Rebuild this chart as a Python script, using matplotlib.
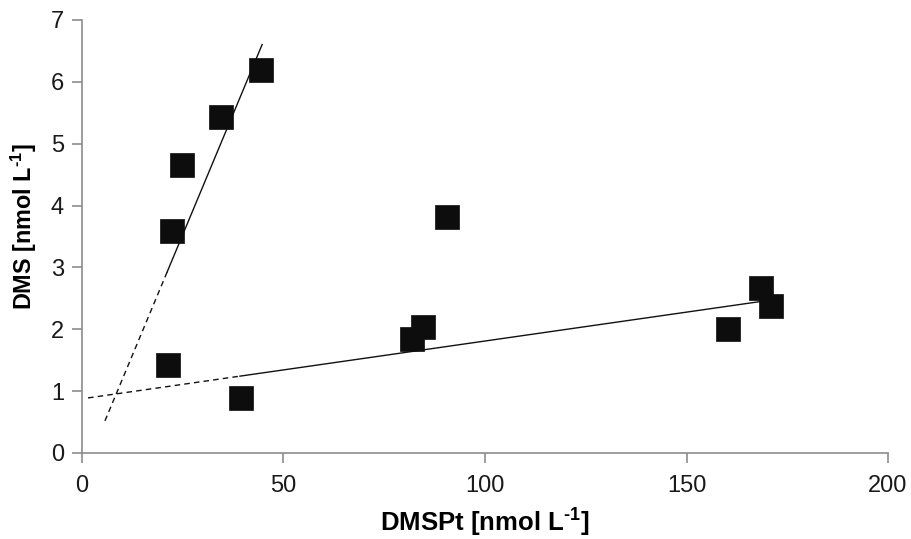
import matplotlib
matplotlib.use("Agg")
import matplotlib.pyplot as plt
import numpy as np

plt.rcParams['font.family'] = ['Liberation Sans', 'DejaVu Sans']
plt.rcParams['mathtext.fontset'] = 'custom'
plt.rcParams['mathtext.rm'] = 'Liberation Sans'
plt.rcParams['mathtext.bf'] = 'Liberation Sans:bold'

# Observations: DMSPt vs DMS
dmspt = [44.4, 34.5, 24.8, 22.3, 21.3, 39.4, 90.5, 81.9, 84.6, 160.3, 168.6, 170.9]
dms = [6.19, 5.43, 4.66, 3.59, 1.42, 0.89, 3.82, 1.84, 2.04, 2.00, 2.67, 2.38]

# Linear regressions: slope, intercept, fitted range, extrapolated start
steep_fit = (0.156, -0.37)
steep_range = (21.1, 44.7)
steep_extrap_start = 5.7

shallow_fit = (0.00934, 0.876)
shallow_range = (39.2, 168.2)
shallow_extrap_start = 1.5

fig = plt.figure(figsize=(9.12, 5.39), dpi=100)
ax = fig.add_axes([0.0899, 0.1596, 0.8838, 0.8033])


def draw_fit(fit, rng, x0):
    m, b = fit
    xs = np.array(rng)
    ax.plot(xs, m * xs + b, color='#111111', lw=1.0, zorder=2)
    xe = np.array([x0, rng[0]])
    ax.plot(xe, m * xe + b, color='#111111', lw=1.0, ls=(0, (4, 3)), zorder=2)


draw_fit(steep_fit, steep_range, steep_extrap_start)
draw_fit(shallow_fit, shallow_range, shallow_extrap_start)

ax.scatter(dmspt, dms, marker='s', s=300, color='#0d0d0d', edgecolors='#0d0d0d',
           linewidths=0.5, zorder=3)

ax.set_xlim(0, 200)
ax.set_ylim(0, 7)
ax.set_xticks([0, 50, 100, 150, 200])
ax.set_yticks(range(0, 8))

for side in ('top', 'right'):
    ax.spines[side].set_visible(False)
for side in ('left', 'bottom'):
    ax.spines[side].set_color('#8c8c8c')
    ax.spines[side].set_linewidth(1.2)

ax.tick_params(axis='both', direction='out', length=7, width=1.2, color='#8c8c8c',
               labelsize=17, labelcolor='#1a1a1a')
ax.tick_params(axis='x', pad=9)
ax.tick_params(axis='y', pad=6)

# superscript "-1" with a plain hyphen
sup = '$^{\\mathbf{\u2010}\\mathbf{1}}$'
ax.set_xlabel('DMSPt [nmol L' + sup + ']', fontsize=18.5, fontweight='bold',
              va='baseline')
ax.set_ylabel('DMS [nmol L' + sup + ']', fontsize=16.8, fontweight='bold',
              va='baseline')
ax.xaxis.set_label_coords(0.5, -0.180)
ax.yaxis.set_label_coords(-0.062, 0.523)

fig.savefig('out.png', dpi=100)
